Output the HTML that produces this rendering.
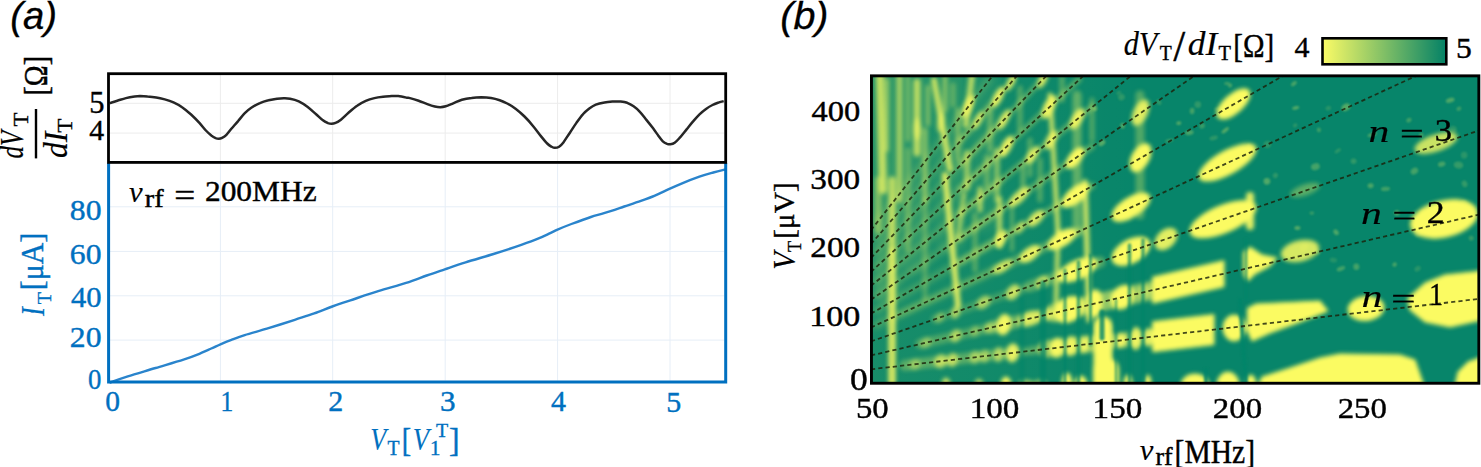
<!DOCTYPE html>
<html lang="en"><head><meta charset="utf-8"><title>Figure</title>
<style>html,body{margin:0;padding:0;background:#fff}svg{display:block}</style></head><body>
<svg width="1481" height="467" viewBox="0 0 1481 467">
<rect width="1481" height="467" fill="#fff"/>
<line x1="220.4" y1="75" x2="220.4" y2="161" stroke="#ececec" stroke-width="1"/>
<line x1="220.4" y1="164" x2="220.4" y2="380.5" stroke="#e6eef7" stroke-width="1"/>
<line x1="332.7" y1="75" x2="332.7" y2="161" stroke="#ececec" stroke-width="1"/>
<line x1="332.7" y1="164" x2="332.7" y2="380.5" stroke="#e6eef7" stroke-width="1"/>
<line x1="445.2" y1="75" x2="445.2" y2="161" stroke="#ececec" stroke-width="1"/>
<line x1="445.2" y1="164" x2="445.2" y2="380.5" stroke="#e6eef7" stroke-width="1"/>
<line x1="557.6" y1="75" x2="557.6" y2="161" stroke="#ececec" stroke-width="1"/>
<line x1="557.6" y1="164" x2="557.6" y2="380.5" stroke="#e6eef7" stroke-width="1"/>
<line x1="670.0" y1="75" x2="670.0" y2="161" stroke="#ececec" stroke-width="1"/>
<line x1="670.0" y1="164" x2="670.0" y2="380.5" stroke="#e6eef7" stroke-width="1"/>
<line x1="110" y1="103.3" x2="724" y2="103.3" stroke="#ececec" stroke-width="1"/>
<line x1="110" y1="133.1" x2="724" y2="133.1" stroke="#ececec" stroke-width="1"/>
<line x1="110" y1="206.8" x2="724" y2="206.8" stroke="#e6eef7" stroke-width="1"/>
<line x1="110" y1="251.4" x2="724" y2="251.4" stroke="#e6eef7" stroke-width="1"/>
<line x1="110" y1="295.8" x2="724" y2="295.8" stroke="#e6eef7" stroke-width="1"/>
<line x1="110" y1="340.1" x2="724" y2="340.1" stroke="#e6eef7" stroke-width="1"/>
<path d="M109.7,103.1C111.0,102.7 114.6,101.5 117.3,100.7C120.0,99.9 123.0,98.8 125.9,98.1C128.8,97.4 132.2,96.9 134.6,96.6C136.9,96.3 137.8,96.2 140.0,96.1C142.1,96.1 144.8,96.1 147.5,96.4C150.2,96.6 153.3,96.9 156.2,97.4C159.1,97.9 161.9,98.6 164.8,99.4C167.7,100.2 170.6,101.1 173.5,102.4C176.3,103.7 179.2,105.2 182.1,107.2C185.0,109.1 187.9,111.7 190.8,114.3C193.6,116.9 196.9,120.2 199.4,122.9C201.9,125.6 203.9,128.4 205.9,130.5C207.9,132.6 209.7,134.2 211.3,135.5C212.9,136.7 214.3,137.5 215.6,138.1C216.9,138.6 217.8,138.7 218.8,138.7C219.9,138.7 220.8,138.5 222.1,137.8C223.3,137.2 224.8,136.4 226.4,134.8C228.0,133.2 229.8,130.7 231.8,128.3C233.8,126.0 236.1,123.3 238.3,120.8C240.4,118.3 242.6,115.4 244.8,113.2C246.9,111.1 248.7,109.5 251.3,107.8C253.8,106.1 257.0,104.3 259.9,103.1C262.8,101.8 265.7,101.0 268.5,100.3C271.4,99.5 274.7,99.1 277.2,98.7C279.7,98.4 281.5,98.3 283.7,98.3C285.8,98.3 287.6,98.2 290.1,98.7C292.7,99.2 295.9,100.0 298.8,101.3C301.7,102.7 304.6,104.6 307.4,106.7C310.3,108.9 313.6,112.1 316.1,114.3C318.6,116.5 320.6,118.7 322.6,120.1C324.5,121.6 326.4,122.5 328.0,123.2C329.5,123.8 330.4,123.8 331.6,123.8C332.9,123.8 334.0,123.6 335.5,122.9C337.1,122.3 338.8,121.4 340.9,119.7C343.1,118.0 345.8,115.1 348.5,112.8C351.2,110.4 354.2,107.6 357.1,105.7C360.0,103.7 362.9,102.2 365.8,100.9C368.7,99.6 371.5,98.8 374.4,98.1C377.3,97.4 380.2,97.1 383.1,96.8C385.9,96.5 389.2,96.3 391.7,96.1C394.2,96.0 395.7,95.9 398.2,96.1C400.7,96.4 404.9,97.3 406.8,97.7C408.8,98.0 408.0,97.6 410.0,98.1C412.0,98.6 415.8,99.7 418.6,100.7C421.5,101.7 424.6,103.2 427.3,104.1C430.0,105.1 432.7,106.0 434.8,106.5C437.0,107.0 438.5,107.2 440.3,107.2C442.1,107.1 443.5,106.9 445.7,106.3C447.8,105.7 450.5,104.4 453.2,103.3C455.9,102.2 458.8,100.7 461.9,99.8C464.9,98.9 468.3,98.3 471.6,97.9C474.8,97.4 478.1,97.2 481.3,97.2C484.5,97.3 488.0,97.6 491.0,98.1C494.1,98.6 497.0,99.4 499.7,100.3C502.4,101.2 504.5,102.1 507.2,103.5C509.9,104.9 513.0,106.7 515.9,108.9C518.8,111.1 521.6,113.6 524.5,116.5C527.4,119.3 530.5,122.9 533.2,126.2C535.9,129.4 538.4,133.0 540.7,135.9C543.1,138.8 545.4,141.7 547.2,143.5C549.0,145.3 550.3,146.0 551.5,146.7C552.8,147.4 553.5,147.8 554.8,147.8C556.0,147.8 557.7,147.6 559.1,146.7C560.5,145.8 561.6,144.7 563.4,142.4C565.2,140.0 567.7,135.9 569.9,132.7C572.1,129.4 574.2,126.0 576.4,122.9C578.5,119.9 580.7,116.7 582.9,114.3C585.0,111.9 587.2,110.1 589.3,108.5C591.5,106.8 593.3,105.6 595.8,104.6C598.3,103.6 601.6,102.9 604.5,102.4C607.3,101.9 610.4,101.7 613.1,101.5C615.8,101.4 618.3,101.3 620.7,101.5C623.0,101.8 625.0,102.1 627.2,102.8C629.3,103.6 631.5,104.8 633.6,106.3C635.8,107.8 638.0,109.8 640.1,112.1C642.3,114.4 644.4,117.4 646.6,120.1C648.8,122.8 651.1,125.7 653.1,128.3C655.1,131.0 656.9,133.7 658.5,135.9C660.1,138.1 661.4,140.0 662.8,141.3C664.2,142.6 665.9,143.4 667.1,143.9C668.4,144.4 669.1,144.5 670.4,144.3C671.6,144.2 673.1,144.0 674.7,142.8C676.3,141.7 678.1,139.6 680.1,137.4C682.1,135.2 684.4,132.1 686.6,129.4C688.7,126.8 690.9,123.9 693.1,121.4C695.2,118.9 697.4,116.4 699.5,114.3C701.7,112.2 703.9,110.4 706.0,108.9C708.2,107.3 710.3,106.1 712.5,105.0C714.7,103.9 717.1,103.1 719.0,102.4C720.9,101.8 723.0,101.3 723.7,101.1" fill="none" stroke="#262626" stroke-width="2.5" stroke-linejoin="round"/>
<path d="M109.5,382.8C110.0,382.6 109.5,382.7 112.5,381.6C115.5,380.5 120.6,378.6 127.8,376.3C135.0,374.0 146.3,370.8 155.6,368.0C164.9,365.2 176.5,361.8 183.5,359.6C190.5,357.4 192.8,356.5 197.4,354.6C202.0,352.8 207.5,350.2 211.3,348.5C215.2,346.8 217.2,345.7 220.5,344.3C223.8,342.9 226.8,341.6 230.8,340.1C234.8,338.6 238.7,337.0 244.7,335.1C250.7,333.2 258.5,331.2 266.9,328.7C275.2,326.1 286.9,322.4 294.8,319.8C302.7,317.2 307.9,315.6 314.2,313.4C320.4,311.2 326.3,308.7 332.3,306.5C338.3,304.3 342.8,302.9 350.4,300.3C358.0,297.8 368.9,294.1 378.2,291.2C387.5,288.3 398.0,285.5 406.1,282.9C414.2,280.3 420.2,277.8 426.7,275.5C433.1,273.2 438.3,271.5 444.8,269.3C451.3,267.1 457.5,264.9 465.6,262.4C473.7,259.8 484.2,256.9 493.5,254.0C502.8,251.1 513.9,247.5 521.3,244.9C528.7,242.3 533.4,240.6 538.0,238.7C542.6,236.8 545.9,235.2 549.1,233.7C552.4,232.2 553.8,231.2 557.5,229.6C561.2,228.0 565.8,226.1 571.4,224.0C577.0,221.9 585.3,218.8 590.9,217.0C596.5,215.2 599.2,214.7 604.8,212.9C610.3,211.2 618.2,208.5 624.2,206.5C630.2,204.5 635.8,202.7 640.9,200.9C646.0,199.1 650.2,197.6 654.9,195.6C659.5,193.6 664.2,191.3 668.8,189.2C673.4,187.1 677.6,185.2 682.7,183.1C687.8,181.0 694.3,178.5 699.4,176.7C704.5,174.9 709.0,173.7 713.3,172.5C717.6,171.3 723.0,170.0 725.0,169.5" fill="none" stroke="#2a84cc" stroke-width="2.4" stroke-linejoin="round"/>
<path d="M108.6,163 V382 H725.7 V163" fill="none" stroke="#0070c0" stroke-width="3"/>
<rect x="108.5" y="73.7" width="617.2" height="88.7" fill="none" stroke="#000" stroke-width="2.8"/>
<rect x="34.8" y="109" width="2.4" height="49.4" fill="#000"/>
<defs><clipPath id="hc"><rect x="871.5" y="75.8" width="607" height="307.5"/></clipPath><filter id="b0" x="-50%" y="-5%" width="200%" height="110%"><feGaussianBlur stdDeviation="1.3"/></filter><filter id="b1" x="-5%" y="-5%" width="110%" height="110%"><feGaussianBlur stdDeviation="2.2"/></filter><filter id="b2" x="-5%" y="-5%" width="110%" height="110%"><feGaussianBlur stdDeviation="3"/></filter><linearGradient id="lg" x1="0" x2="1" y1="0" y2="0"><stop offset="0" stop-color="#fbfb62" stop-opacity=".07"/><stop offset=".22" stop-color="#fbfb62" stop-opacity=".04"/><stop offset=".45" stop-color="#fbfb62" stop-opacity="0"/></linearGradient></defs>
<g clip-path="url(#hc)">
<rect x="870" y="74" width="611" height="311" fill="#07856a"/>
<rect x="870" y="74" width="611" height="311" fill="url(#lg)"/>
<g filter="url(#b2)" stroke="#fbfb62" fill="#fbfb62" stroke-linecap="round"><line x1="886.0" y1="77.0" x2="886.0" y2="290.0" stroke-width="26" opacity="0.1"/><line x1="915.0" y1="77.0" x2="915.0" y2="260.0" stroke-width="30" opacity="0.08"/><line x1="950.0" y1="77.0" x2="950.0" y2="240.0" stroke-width="30" opacity="0.07"/><line x1="985.0" y1="77.0" x2="985.0" y2="220.0" stroke-width="30" opacity="0.05"/><line x1="876.0" y1="325.2" x2="1000.0" y2="267.8" stroke-width="6.4" opacity="0.25"/><line x1="876.0" y1="310.7" x2="1000.0" y2="239.0" stroke-width="6.1" opacity="0.25"/><line x1="876.0" y1="296.2" x2="1000.0" y2="210.1" stroke-width="5.8" opacity="0.25"/><line x1="876.0" y1="281.7" x2="1000.0" y2="181.3" stroke-width="5.4" opacity="0.25"/><line x1="876.0" y1="267.2" x2="1000.0" y2="152.4" stroke-width="5.1" opacity="0.25"/><line x1="876.0" y1="252.7" x2="1000.0" y2="123.6" stroke-width="4.8" opacity="0.25"/><line x1="876.0" y1="238.2" x2="1000.0" y2="94.8" stroke-width="4.6" opacity="0.25"/><line x1="876.0" y1="223.7" x2="989.4" y2="79.4" stroke-width="4.3" opacity="0.25"/></g>
<g filter="url(#b1)" stroke="#fbfb62" fill="#fbfb62" stroke-linecap="round"><line x1="880.0" y1="75.0" x2="883.0" y2="190.0" stroke-width="8" opacity="0.72"/><line x1="878.0" y1="180.0" x2="878.0" y2="230.0" stroke-width="7" opacity="0.4"/><line x1="899.5" y1="75.0" x2="899.5" y2="200.0" stroke-width="6" opacity="0.6"/><line x1="917.0" y1="82.0" x2="917.0" y2="153.0" stroke-width="7" opacity="0.7"/><ellipse cx="917.0" cy="129.0" rx="3.5" ry="11.0" opacity="0.6"/><line x1="928.0" y1="87.0" x2="928.0" y2="124.0" stroke-width="5" opacity="0.4"/><line x1="934.0" y1="80.0" x2="950.0" y2="169.0" stroke-width="6" opacity="0.78"/><ellipse cx="941.0" cy="122.0" rx="3.5" ry="10.0" transform="rotate(8.0 941.0 122.0)" opacity="0.6"/><line x1="972.0" y1="75.0" x2="966.0" y2="125.0" stroke-width="6" opacity="0.72"/><line x1="967.0" y1="153.0" x2="967.0" y2="188.0" stroke-width="6" opacity="0.55"/><line x1="987.0" y1="157.0" x2="987.0" y2="186.0" stroke-width="6" opacity="0.3"/><line x1="953.0" y1="85.0" x2="953.0" y2="105.0" stroke-width="5" opacity="0.3"/><line x1="892.0" y1="180.0" x2="892.0" y2="386.0" stroke-width="7" opacity="0.7"/><line x1="964.0" y1="194.0" x2="958.0" y2="239.0" stroke-width="5" opacity="0.55"/><line x1="980.0" y1="189.0" x2="980.0" y2="210.0" stroke-width="5" opacity="0.65"/><line x1="999.5" y1="199.0" x2="999.5" y2="246.0" stroke-width="5.5" opacity="0.65"/><line x1="887.0" y1="80.0" x2="887.0" y2="150.0" stroke-width="4" opacity="0.5"/><line x1="925.0" y1="130.0" x2="925.0" y2="200.0" stroke-width="5" opacity="0.45"/><line x1="945.0" y1="77.0" x2="945.0" y2="110.0" stroke-width="5" opacity="0.45"/><line x1="908.0" y1="77.0" x2="908.0" y2="140.0" stroke-width="4" opacity="0.4"/><line x1="958.0" y1="110.0" x2="958.0" y2="160.0" stroke-width="5" opacity="0.4"/><line x1="997.0" y1="150.0" x2="997.0" y2="200.0" stroke-width="5" opacity="0.5"/><line x1="908.0" y1="150.0" x2="908.0" y2="250.0" stroke-width="5" opacity="0.3"/><line x1="925.0" y1="200.0" x2="925.0" y2="300.0" stroke-width="5" opacity="0.25"/><line x1="1020.0" y1="88.0" x2="1020.0" y2="130.0" stroke-width="5" opacity="0.3"/><line x1="1030.0" y1="140.0" x2="1030.0" y2="175.0" stroke-width="5" opacity="0.3"/><line x1="1012.0" y1="205.0" x2="1012.0" y2="250.0" stroke-width="4" opacity="0.3"/><line x1="975.0" y1="215.0" x2="975.0" y2="270.0" stroke-width="5" opacity="0.3"/><line x1="1062.0" y1="77.0" x2="1062.0" y2="100.0" stroke-width="5" opacity="0.3"/><line x1="1092.0" y1="100.0" x2="1092.0" y2="140.0" stroke-width="5" opacity="0.3"/><line x1="1040.0" y1="160.0" x2="1040.0" y2="200.0" stroke-width="5" opacity="0.3"/><line x1="990.0" y1="110.0" x2="990.0" y2="150.0" stroke-width="5" opacity="0.35"/><line x1="1023.0" y1="165.0" x2="1023.0" y2="192.0" stroke-width="5" opacity="0.35"/></g>
<g filter="url(#b0)" fill="#fbfb62"><ellipse cx="1218.1" cy="108.7" rx="4.0" ry="1.6" transform="rotate(-13.2 1218.1 108.7)" opacity="0.19"/><ellipse cx="1121.5" cy="97.2" rx="3.3" ry="3.2" transform="rotate(-33.8 1121.5 97.2)" opacity="0.16"/><ellipse cx="1333.4" cy="260.1" rx="3.7" ry="2.3" transform="rotate(8.8 1333.4 260.1)" opacity="0.13"/><ellipse cx="1421.2" cy="135.0" rx="2.4" ry="1.7" transform="rotate(-24.6 1421.2 135.0)" opacity="0.28"/><ellipse cx="1337.8" cy="150.8" rx="3.6" ry="1.6" transform="rotate(-37.0 1337.8 150.8)" opacity="0.16"/><ellipse cx="1353.6" cy="161.2" rx="2.9" ry="2.7" transform="rotate(-17.3 1353.6 161.2)" opacity="0.18"/><ellipse cx="1396.9" cy="212.8" rx="2.7" ry="2.6" transform="rotate(-13.7 1396.9 212.8)" opacity="0.3"/><ellipse cx="1372.2" cy="134.7" rx="4.9" ry="1.7" transform="rotate(-19.1 1372.2 134.7)" opacity="0.27"/><ellipse cx="1385.5" cy="188.9" rx="4.6" ry="2.1" transform="rotate(-5.2 1385.5 188.9)" opacity="0.24"/><ellipse cx="1315.4" cy="166.7" rx="4.5" ry="3.4" transform="rotate(-16.3 1315.4 166.7)" opacity="0.25"/><ellipse cx="1340.9" cy="268.7" rx="4.5" ry="2.1" transform="rotate(-20.7 1340.9 268.7)" opacity="0.25"/><ellipse cx="1158.9" cy="102.2" rx="2.2" ry="3.0" transform="rotate(-33.5 1158.9 102.2)" opacity="0.17"/><ellipse cx="1303.8" cy="247.8" rx="4.5" ry="3.2" transform="rotate(-26.1 1303.8 247.8)" opacity="0.2"/><ellipse cx="1458.9" cy="108.7" rx="2.5" ry="2.0" transform="rotate(-28.3 1458.9 108.7)" opacity="0.22"/><ellipse cx="1318.9" cy="129.9" rx="2.0" ry="2.3" transform="rotate(-21.5 1318.9 129.9)" opacity="0.23"/><ellipse cx="1457.2" cy="211.2" rx="3.5" ry="2.7" transform="rotate(-6.2 1457.2 211.2)" opacity="0.13"/><ellipse cx="1436.8" cy="228.2" rx="4.6" ry="3.1" transform="rotate(-20.4 1436.8 228.2)" opacity="0.2"/><ellipse cx="1118.7" cy="92.8" rx="2.6" ry="1.8" transform="rotate(-23.0 1118.7 92.8)" opacity="0.13"/><ellipse cx="1095.1" cy="108.7" rx="2.3" ry="2.2" transform="rotate(-38.7 1095.1 108.7)" opacity="0.29"/><ellipse cx="1328.3" cy="108.2" rx="2.8" ry="2.2" transform="rotate(-21.8 1328.3 108.2)" opacity="0.14"/><ellipse cx="1417.6" cy="268.7" rx="3.4" ry="2.5" transform="rotate(-35.7 1417.6 268.7)" opacity="0.14"/><ellipse cx="1225.2" cy="130.3" rx="4.5" ry="1.8" transform="rotate(-38.8 1225.2 130.3)" opacity="0.31"/><ellipse cx="1295.7" cy="107.9" rx="3.6" ry="1.6" transform="rotate(-13.6 1295.7 107.9)" opacity="0.32"/><ellipse cx="1423.1" cy="212.3" rx="2.8" ry="2.2" transform="rotate(-31.6 1423.1 212.3)" opacity="0.27"/><ellipse cx="1297.4" cy="228.0" rx="3.0" ry="1.9" transform="rotate(0.6 1297.4 228.0)" opacity="0.32"/><ellipse cx="1419.0" cy="233.2" rx="4.5" ry="3.0" transform="rotate(-28.7 1419.0 233.2)" opacity="0.22"/><ellipse cx="1230.1" cy="85.5" rx="2.1" ry="2.1" transform="rotate(-27.0 1230.1 85.5)" opacity="0.26"/><ellipse cx="1458.5" cy="165.0" rx="4.8" ry="3.5" transform="rotate(7.8 1458.5 165.0)" opacity="0.19"/><ellipse cx="1178.8" cy="123.1" rx="2.6" ry="1.9" transform="rotate(-8.8 1178.8 123.1)" opacity="0.3"/><ellipse cx="1414.4" cy="171.1" rx="4.0" ry="3.1" transform="rotate(-35.8 1414.4 171.1)" opacity="0.25"/><ellipse cx="1440.7" cy="228.6" rx="4.3" ry="2.5" transform="rotate(-31.1 1440.7 228.6)" opacity="0.28"/><ellipse cx="1464.2" cy="155.2" rx="3.2" ry="3.4" transform="rotate(-3.8 1464.2 155.2)" opacity="0.15"/><ellipse cx="1143.3" cy="108.7" rx="4.7" ry="3.1" transform="rotate(-32.7 1143.3 108.7)" opacity="0.29"/><ellipse cx="1467.5" cy="204.9" rx="3.1" ry="2.6" transform="rotate(-33.5 1467.5 204.9)" opacity="0.12"/><ellipse cx="1463.9" cy="203.4" rx="3.6" ry="3.4" transform="rotate(-18.3 1463.9 203.4)" opacity="0.29"/><ellipse cx="1408.9" cy="120.1" rx="2.8" ry="2.1" transform="rotate(-28.0 1408.9 120.1)" opacity="0.24"/><ellipse cx="1316.7" cy="251.8" rx="3.3" ry="3.3" transform="rotate(-14.9 1316.7 251.8)" opacity="0.23"/><ellipse cx="1293.9" cy="83.6" rx="3.3" ry="1.9" transform="rotate(-39.8 1293.9 83.6)" opacity="0.28"/><ellipse cx="1370.6" cy="185.7" rx="3.0" ry="2.5" transform="rotate(-12.2 1370.6 185.7)" opacity="0.28"/><ellipse cx="1189.4" cy="132.6" rx="4.3" ry="2.5" transform="rotate(-11.9 1189.4 132.6)" opacity="0.27"/><ellipse cx="1441.7" cy="164.2" rx="3.8" ry="2.5" transform="rotate(-14.4 1441.7 164.2)" opacity="0.26"/><ellipse cx="1266.9" cy="181.3" rx="3.4" ry="3.4" transform="rotate(-5.0 1266.9 181.3)" opacity="0.3"/><ellipse cx="1453.0" cy="129.3" rx="3.7" ry="3.4" transform="rotate(2.0 1453.0 129.3)" opacity="0.15"/><ellipse cx="1122.6" cy="125.7" rx="2.2" ry="2.8" transform="rotate(-0.8 1122.6 125.7)" opacity="0.3"/><ellipse cx="1345.9" cy="107.2" rx="4.6" ry="3.4" transform="rotate(-29.0 1345.9 107.2)" opacity="0.31"/><ellipse cx="1471.2" cy="238.2" rx="2.5" ry="2.4" transform="rotate(-14.2 1471.2 238.2)" opacity="0.19"/><ellipse cx="1169.4" cy="140.5" rx="4.2" ry="1.5" transform="rotate(-12.3 1169.4 140.5)" opacity="0.21"/><ellipse cx="1101.9" cy="143.0" rx="3.9" ry="2.5" transform="rotate(-36.8 1101.9 143.0)" opacity="0.32"/><ellipse cx="1394.6" cy="264.6" rx="2.3" ry="2.0" transform="rotate(-38.0 1394.6 264.6)" opacity="0.28"/><ellipse cx="1197.8" cy="104.6" rx="3.3" ry="3.3" transform="rotate(0.9 1197.8 104.6)" opacity="0.17"/><ellipse cx="1311.8" cy="213.1" rx="2.3" ry="1.6" transform="rotate(-5.6 1311.8 213.1)" opacity="0.21"/><ellipse cx="1336.1" cy="232.3" rx="2.3" ry="3.2" transform="rotate(-36.7 1336.1 232.3)" opacity="0.29"/><ellipse cx="1267.4" cy="144.4" rx="3.7" ry="3.4" transform="rotate(-26.6 1267.4 144.4)" opacity="0.15"/><ellipse cx="1295.2" cy="125.3" rx="2.3" ry="1.8" transform="rotate(-37.5 1295.2 125.3)" opacity="0.16"/><ellipse cx="1213.6" cy="138.0" rx="4.3" ry="2.1" transform="rotate(-15.0 1213.6 138.0)" opacity="0.16"/><ellipse cx="1226.9" cy="83.5" rx="2.8" ry="1.5" transform="rotate(-3.3 1226.9 83.5)" opacity="0.23"/><ellipse cx="1450.2" cy="100.2" rx="4.5" ry="2.4" transform="rotate(-15.2 1450.2 100.2)" opacity="0.29"/><ellipse cx="1356.3" cy="266.7" rx="3.0" ry="3.2" transform="rotate(-4.7 1356.3 266.7)" opacity="0.25"/><ellipse cx="1248.8" cy="146.0" rx="2.2" ry="1.8" transform="rotate(-36.5 1248.8 146.0)" opacity="0.27"/><ellipse cx="1192.1" cy="111.0" rx="2.3" ry="3.2" transform="rotate(3.5 1192.1 111.0)" opacity="0.25"/><ellipse cx="1202.1" cy="126.0" rx="2.9" ry="2.4" transform="rotate(-32.1 1202.1 126.0)" opacity="0.21"/><ellipse cx="1464.6" cy="183.9" rx="2.7" ry="3.4" transform="rotate(-24.5 1464.6 183.9)" opacity="0.19"/><ellipse cx="1275.4" cy="175.5" rx="2.6" ry="2.5" transform="rotate(-39.8 1275.4 175.5)" opacity="0.17"/></g>
<g filter="url(#b1)" stroke="#fbfb62" fill="#fbfb62" stroke-linecap="round"><line x1="892.0" y1="250.0" x2="892.0" y2="386.0" stroke-width="5" opacity="0.5"/><line x1="945.0" y1="175.0" x2="958.0" y2="305.0" stroke-width="6" opacity="0.85"/><line x1="1085.0" y1="182.0" x2="1089.0" y2="320.0" stroke-width="5.5" opacity="0.8"/><line x1="1050.0" y1="95.0" x2="1058.0" y2="232.0" stroke-width="5" opacity="0.75"/><line x1="1058.0" y1="232.0" x2="1056.0" y2="305.0" stroke-width="5" opacity="0.7"/><line x1="1077.0" y1="95.0" x2="1077.0" y2="232.0" stroke-width="9" opacity="0.35"/><line x1="1140.0" y1="95.0" x2="1140.0" y2="215.0" stroke-width="9" opacity="0.3"/><line x1="905.0" y1="365.3" x2="1020.0" y2="352.0" stroke-width="10.9" opacity="0.3"/><line x1="1046.0" y1="349.0" x2="1092.0" y2="343.7" stroke-width="16.9" opacity="0.55"/><line x1="1114.0" y1="341.2" x2="1153.0" y2="336.7" stroke-width="14.9" opacity="0.5"/><ellipse rx="5.0" ry="5.0" transform="matrix(1 -0.1157 0 1 915.0 364.2)" opacity="0.4"/><ellipse rx="6.0" ry="6.5" transform="matrix(1 -0.1157 0 1 940.7 361.2)" opacity="0.65"/><ellipse rx="5.0" ry="6.5" transform="matrix(1 -0.1157 0 1 952.5 359.9)" opacity="0.65"/><ellipse rx="5.0" ry="6.0" transform="matrix(1 -0.1157 0 1 975.0 357.2)" opacity="0.5"/><ellipse rx="4.5" ry="6.0" transform="matrix(1 -0.1157 0 1 984.6 356.1)" opacity="0.5"/><ellipse rx="4.5" ry="7.0" transform="matrix(1 -0.1157 0 1 998.5 354.5)" opacity="0.6"/><ellipse rx="6.0" ry="9.0" transform="matrix(1 -0.1157 0 1 1012.4 352.9)" opacity="0.9"/><ellipse rx="10.0" ry="4.0" transform="matrix(1 -0.1157 0 1 1033.0 350.5)" opacity="0.3"/><ellipse rx="7.0" ry="9.5" transform="matrix(1 -0.1157 0 1 1057.0 347.8)" opacity="0.95"/><ellipse rx="5.5" ry="9.5" transform="matrix(1 -0.1157 0 1 1071.0 346.1)" opacity="0.9"/><ellipse rx="4.5" ry="8.0" transform="matrix(1 -0.1157 0 1 1084.5 344.6)" opacity="0.85"/><ellipse rx="5.5" ry="7.0" transform="matrix(1 -0.1157 0 1 1121.0 340.4)" opacity="0.9"/><ellipse rx="5.0" ry="11.0" transform="matrix(1 -0.1157 0 1 1136.0 338.6)" opacity="0.9"/><ellipse rx="4.0" ry="9.0" transform="matrix(1 -0.1157 0 1 1148.5 337.2)" opacity="0.8"/><polygon points="1153.0,321.7 1214.0,314.6 1214.0,344.6 1153.0,351.7"/><line x1="1103.0" y1="326.0" x2="1103.0" y2="386.0" stroke-width="19"/><line x1="1106.0" y1="370.0" x2="1106.0" y2="388.0" stroke-width="26"/><line x1="920.0" y1="344.0" x2="992.0" y2="327.4" stroke-width="9.7" opacity="0.25"/><line x1="992.0" y1="327.4" x2="1050.0" y2="313.9" stroke-width="12.7" opacity="0.4"/><line x1="1054.0" y1="313.0" x2="1150.0" y2="290.8" stroke-width="18.5" opacity="0.55"/><ellipse rx="5.0" ry="5.0" transform="matrix(1 -0.2314 0 1 925.7 342.7)" opacity="0.4"/><ellipse rx="5.0" ry="6.0" transform="matrix(1 -0.2314 0 1 955.7 335.8)" opacity="0.6"/><ellipse rx="4.0" ry="5.0" transform="matrix(1 -0.2314 0 1 975.0 331.3)" opacity="0.35"/><ellipse rx="4.0" ry="5.0" transform="matrix(1 -0.2314 0 1 988.0 328.3)" opacity="0.35"/><ellipse rx="7.0" ry="10.0" transform="matrix(1 -0.2314 0 1 1003.8 324.6)" opacity="0.95"/><ellipse rx="12.0" ry="7.0" transform="matrix(1 -0.2314 0 1 1030.0 318.6)" opacity="0.8"/><ellipse rx="4.0" ry="5.0" transform="matrix(1 -0.2314 0 1 1048.0 314.4)" opacity="0.6"/><ellipse rx="15.0" ry="12.5" transform="matrix(1 -0.2314 0 1 1069.0 309.5)"/><ellipse rx="7.0" ry="13.5" transform="matrix(1 -0.2314 0 1 1095.0 303.5)"/><ellipse rx="11.5" ry="11.5" transform="matrix(1 -0.2314 0 1 1122.5 297.2)"/><ellipse rx="6.0" ry="6.0" transform="matrix(1 -0.2314 0 1 1144.0 292.2)" opacity="0.5"/><polygon points="1153.0,277.1 1224.0,260.7 1224.0,286.7 1153.0,303.1"/><line x1="935.0" y1="319.2" x2="1025.0" y2="288.0" stroke-width="8.5" opacity="0.2"/><line x1="1030.0" y1="286.3" x2="1100.0" y2="262.0" stroke-width="11.3" opacity="0.3"/><ellipse rx="4.0" ry="4.5" transform="matrix(1 -0.3471 0 1 939.6 317.6)" opacity="0.4"/><ellipse rx="4.0" ry="6.0" transform="matrix(1 -0.3471 0 1 955.7 312.0)" opacity="0.6"/><ellipse rx="6.5" ry="6.0" transform="matrix(1 -0.3471 0 1 983.5 302.4)" opacity="0.6"/><ellipse rx="6.5" ry="7.0" transform="matrix(1 -0.3471 0 1 1013.0 292.2)" opacity="0.75"/><ellipse rx="6.0" ry="5.5" transform="matrix(1 -0.3471 0 1 1042.0 282.1)" opacity="0.7"/><ellipse rx="19.5" ry="10.0" transform="matrix(1 -0.3471 0 1 1077.5 269.8)"/><ellipse rx="19.0" ry="12.5" transform="matrix(1 -0.3471 0 1 1131.0 251.2)"/><ellipse rx="11.0" ry="10.0" transform="matrix(1 -0.3471 0 1 1166.0 239.0)" opacity="0.9"/><line x1="900.0" y1="314.1" x2="990.0" y2="272.5" stroke-width="7.3" opacity="0.15"/><line x1="995.0" y1="270.1" x2="1080.0" y2="230.8" stroke-width="9.1" opacity="0.3"/><ellipse rx="9.0" ry="5.0" transform="matrix(1 -0.4628 0 1 1003.0 266.4)" opacity="0.7"/><ellipse rx="10.0" ry="7.0" transform="matrix(1 -0.4628 0 1 1030.0 253.9)" opacity="0.9"/><ellipse rx="14.0" ry="8.0" transform="matrix(1 -0.4628 0 1 1062.0 239.1)"/><ellipse rx="19.0" ry="11.0" transform="matrix(1 -0.4628 0 1 1131.0 207.2)"/><line x1="960.0" y1="262.1" x2="1092.0" y2="185.8" stroke-width="6.9" opacity="0.3"/><line x1="960.0" y1="237.9" x2="1092.0" y2="146.3" stroke-width="6.6" opacity="0.3"/><line x1="960.0" y1="213.7" x2="1092.0" y2="106.8" stroke-width="6.2" opacity="0.3"/><line x1="960.0" y1="189.5" x2="1078.9" y2="79.4" stroke-width="5.9" opacity="0.3"/><line x1="960.0" y1="165.3" x2="1042.5" y2="79.4" stroke-width="5.5" opacity="0.3"/><line x1="960.0" y1="141.0" x2="1013.3" y2="79.4" stroke-width="5.2" opacity="0.3"/><ellipse rx="5.5" ry="7.5" transform="matrix(1 -0.5785 0 1 1001.0 238.4)" opacity="0.8"/><ellipse rx="5.0" ry="5.0" transform="matrix(1 -0.5785 0 1 1020.0 227.4)" opacity="0.6"/><ellipse rx="8.0" ry="6.5" transform="matrix(1 -0.5785 0 1 1036.0 218.2)" opacity="0.8"/><ellipse rx="13.5" ry="9.0" transform="matrix(1 -0.5785 0 1 1075.5 195.3)"/><ellipse rx="10.5" ry="12.5" transform="matrix(1 -0.5785 0 1 1140.5 157.7)"/><ellipse rx="10.0" ry="6.5" transform="matrix(1 -0.6942 0 1 1019.0 196.9)" opacity="0.8"/><ellipse rx="9.0" ry="8.0" transform="matrix(1 -0.6942 0 1 1075.0 158.1)"/><ellipse rx="8.5" ry="11.0" transform="matrix(1 -0.6942 0 1 1140.5 112.6)" opacity="0.85"/><ellipse rx="7.0" ry="8.0" transform="matrix(1 -0.8099 0 1 1077.0 118.9)" opacity="0.9"/><ellipse rx="6.0" ry="7.5" transform="matrix(1 -0.8099 0 1 1051.0 140.0)" opacity="0.8"/><ellipse rx="6.5" ry="6.5" transform="matrix(1 -0.8099 0 1 1032.5 155.0)" opacity="0.8"/><ellipse rx="7.0" ry="9.0" transform="matrix(1 -0.9256 0 1 1049.0 107.1)" opacity="0.9"/><ellipse rx="6.5" ry="8.0" transform="matrix(1 -0.9256 0 1 1006.5 146.4)" opacity="0.9"/><ellipse rx="5.0" ry="7.0" transform="matrix(1 -1.0413 0 1 1043.0 78.8)" opacity="0.8"/><ellipse rx="6.0" ry="7.0" transform="matrix(1 -1.0413 0 1 1004.0 119.4)" opacity="0.8"/><ellipse rx="6.0" ry="7.0" transform="matrix(1 -1.1570 0 1 998.0 97.1)" opacity="0.9"/><ellipse rx="5.0" ry="6.0" transform="matrix(1 -1.1570 0 1 978.0 120.2)" opacity="0.7"/><ellipse rx="5.0" ry="6.0" transform="matrix(1 -1.1570 0 1 1011.0 82.0)" opacity="0.8"/><ellipse rx="6.0" ry="8.0" transform="matrix(1 -1.2727 0 1 968.0 106.6)" opacity="0.8"/><ellipse cx="946.0" cy="385.0" rx="4.0" ry="7.0" opacity="0.8"/><ellipse cx="979.0" cy="385.0" rx="4.0" ry="6.0" opacity="0.7"/><ellipse cx="1006.0" cy="385.0" rx="5.0" ry="8.0"/><ellipse cx="1026.0" cy="385.0" rx="8.0" ry="5.0" opacity="0.6"/><ellipse cx="1040.0" cy="385.0" rx="8.0" ry="5.0" opacity="0.5"/><ellipse cx="1067.0" cy="385.0" rx="5.0" ry="12.0"/><ellipse cx="1081.0" cy="385.0" rx="6.0" ry="9.0"/><ellipse cx="1128.0" cy="385.0" rx="4.0" ry="10.0"/><ellipse cx="1148.0" cy="385.0" rx="3.0" ry="10.0"/><ellipse cx="1234.0" cy="328.0" rx="11.0" ry="13.0"/><polygon points="1248.0,308.0 1256.0,304.0 1320.0,301.0 1328.0,311.0 1300.0,322.0 1270.0,333.0 1252.0,341.0 1247.0,330.0"/><ellipse cx="1366.0" cy="308.5" rx="18.0" ry="12.0" transform="rotate(-6.6 1366.0 308.5)"/><polygon points="1408.0,298.0 1425.0,283.0 1445.0,275.0 1482.0,271.0 1482.0,320.0 1450.0,327.0 1425.0,322.0 1410.0,310.0"/><ellipse cx="1195.0" cy="385.0" rx="14.0" ry="11.0"/><ellipse cx="1228.0" cy="385.0" rx="11.0" ry="13.0"/><ellipse cx="1251.0" cy="385.0" rx="5.0" ry="10.0"/><polygon points="1258.0,386.0 1262.0,377.0 1290.0,368.0 1320.0,358.0 1340.0,354.0 1400.0,355.0 1415.0,360.0 1424.0,386.0"/><polygon points="1455.0,386.0 1458.0,372.0 1468.0,362.0 1482.0,357.0 1482.0,386.0"/><ellipse rx="33.0" ry="14.5" transform="matrix(1 -0.3471 0 1 1223.0 219.3)"/><line x1="1250.0" y1="196.0" x2="1250.0" y2="226.0" stroke-width="8" opacity="0.9"/><polygon points="1244.0,252.0 1250.0,247.0 1262.0,255.0 1277.0,258.0 1270.0,266.0 1255.0,274.0 1248.0,281.0 1244.0,275.0"/><ellipse cx="1300.0" cy="251.0" rx="19.0" ry="10.0" transform="rotate(-13.0 1300.0 251.0)" opacity="0.85"/><ellipse cx="1444.0" cy="219.0" rx="34.0" ry="18.0" transform="rotate(-13.0 1444.0 219.0)"/><ellipse cx="1305.0" cy="190.0" rx="15.0" ry="5.0" transform="rotate(-19.1 1305.0 190.0)" opacity="0.35"/><ellipse rx="16.5" ry="11.5" transform="matrix(1 -0.5785 0 1 1233.5 103.9)"/><ellipse rx="28.5" ry="13.0" transform="matrix(1 -0.4628 0 1 1227.5 162.5)"/><ellipse cx="1436.0" cy="143.0" rx="22.0" ry="8.0" transform="rotate(-19.1 1436.0 143.0)" opacity="0.8"/></g>
<g filter="url(#b0)" stroke="#07856a" stroke-linecap="round"><line x1="1043.0" y1="283.0" x2="1043.0" y2="386.0" stroke-width="6" opacity="0.7"/><line x1="1065.0" y1="270.0" x2="1065.0" y2="386.0" stroke-width="3" opacity="0.7"/><line x1="1078.5" y1="262.0" x2="1078.5" y2="386.0" stroke-width="3.5" opacity="0.7"/><line x1="1090.5" y1="255.0" x2="1090.5" y2="345.0" stroke-width="3" opacity="0.7"/><line x1="1129.5" y1="245.0" x2="1129.5" y2="386.0" stroke-width="3.5" opacity="0.7"/><line x1="1143.0" y1="240.0" x2="1143.0" y2="386.0" stroke-width="3.5" opacity="0.7"/><line x1="1116.0" y1="300.0" x2="1116.0" y2="386.0" stroke-width="2.5" opacity="0.6"/><line x1="1022.0" y1="300.0" x2="1022.0" y2="386.0" stroke-width="5" opacity="0.5"/><line x1="1102.0" y1="312.0" x2="1102.0" y2="338.0" stroke-width="5" opacity="0.8"/><line x1="1240.0" y1="300.0" x2="1246.0" y2="386.0" stroke-width="4" opacity="0.85"/><line x1="1246.0" y1="240.0" x2="1246.0" y2="300.0" stroke-width="3" opacity="0.6"/><line x1="1206.0" y1="370.0" x2="1206.0" y2="386.0" stroke-width="4" opacity="0.8"/></g>
<g stroke="#1c220a" stroke-width="1.8" stroke-dasharray="4.2 3.1" opacity=".82"><line x1="871" y1="369.3" x2="1480.0" y2="298.8"/><line x1="871" y1="355.4" x2="1480.0" y2="214.4"/><line x1="871" y1="341.4" x2="1480.0" y2="130.1"/><line x1="871" y1="327.5" x2="1420.1" y2="74.0"/><line x1="871" y1="313.6" x2="1286.2" y2="74.0"/><line x1="871" y1="299.7" x2="1197.0" y2="74.0"/><line x1="871" y1="285.8" x2="1133.2" y2="74.0"/><line x1="871" y1="271.9" x2="1085.4" y2="74.0"/><line x1="871" y1="257.9" x2="1048.2" y2="74.0"/><line x1="871" y1="244.0" x2="1018.5" y2="74.0"/><line x1="871" y1="230.1" x2="994.1" y2="74.0"/></g>
</g>
<rect x="871.45" y="75.85" width="607.4" height="307.4" fill="none" stroke="#000" stroke-width="2.9"/>
<text transform="translate(10.29,28.60) scale(1.0068,1.0000)" font-family='"Liberation Sans", sans-serif' font-style="italic" font-size="38" fill="#000" stroke="#000" stroke-width="0.3">(a)</text>
<text transform="translate(780.26,28.60) scale(1.0386,1.0000)" font-family='"Liberation Sans", sans-serif' font-style="italic" font-size="38" fill="#000" stroke="#000" stroke-width="0.3">(b)</text>
<text transform="translate(89.18,112.90) scale(1.0154,1.0450)" font-family='"Liberation Serif", serif' font-style="normal" font-size="30" fill="#000" stroke="#000" stroke-width="0.4">5</text>
<text transform="translate(89.20,140.39) scale(0.9933,1.0100)" font-family='"Liberation Serif", serif' font-style="normal" font-size="30" fill="#000" stroke="#000" stroke-width="0.4">4</text>
<text transform="translate(129.00,201.50) scale(1.0214,0.9929)" font-family='"Liberation Serif", serif' font-style="italic" font-size="30" fill="#000" stroke="#000" stroke-width="0.15">ν</text>
<text transform="translate(144.80,206.50) scale(1.2800,1.1000)" font-family='"Liberation Serif", serif' font-style="normal" font-size="22" fill="#000" stroke="#000" stroke-width="0.4">rf</text>
<text transform="translate(174.16,206.47) scale(1.2400,1.0778)" font-family='"Liberation Serif", serif' font-style="normal" font-size="30" fill="#000" stroke="#000" stroke-width="0.4">=</text>
<text transform="translate(204.95,200.54) scale(1.0476,0.9619)" font-family='"Liberation Serif", serif' font-style="normal" font-size="30" fill="#000" stroke="#000" stroke-width="0.4">200MHz</text>
<text transform="translate(69.84,219.83) scale(1.0552,0.9750)" font-family='"Liberation Serif", serif' font-style="normal" font-size="30" fill="#0070c0" stroke="#0070c0" stroke-width="0.4">80</text>
<text transform="translate(69.84,264.45) scale(1.0552,0.9500)" font-family='"Liberation Serif", serif' font-style="normal" font-size="30" fill="#0070c0" stroke="#0070c0" stroke-width="0.4">60</text>
<text transform="translate(70.90,306.64) scale(1.0200,0.9650)" font-family='"Liberation Serif", serif' font-style="normal" font-size="30" fill="#0070c0" stroke="#0070c0" stroke-width="0.4">40</text>
<text transform="translate(69.84,347.42) scale(1.0552,0.9750)" font-family='"Liberation Serif", serif' font-style="normal" font-size="30" fill="#0070c0" stroke="#0070c0" stroke-width="0.4">20</text>
<text transform="translate(88.11,388.89) scale(0.8929,1.0100)" font-family='"Liberation Serif", serif' font-style="normal" font-size="30" fill="#0070c0" stroke="#0070c0" stroke-width="0.4">0</text>
<text transform="translate(105.21,410.59) scale(0.9857,1.0100)" font-family='"Liberation Serif", serif' font-style="normal" font-size="30" fill="#0070c0" stroke="#0070c0" stroke-width="0.4">0</text>
<text transform="translate(220.50,410.59) scale(0.8500,1.0100)" font-family='"Liberation Serif", serif' font-style="normal" font-size="30" fill="#0070c0" stroke="#0070c0" stroke-width="0.4">1</text>
<text transform="translate(328.30,410.59) scale(1.0000,1.0100)" font-family='"Liberation Serif", serif' font-style="normal" font-size="30" fill="#0070c0" stroke="#0070c0" stroke-width="0.4">2</text>
<text transform="translate(439.96,410.59) scale(1.0385,1.0100)" font-family='"Liberation Serif", serif' font-style="normal" font-size="30" fill="#0070c0" stroke="#0070c0" stroke-width="0.4">3</text>
<text transform="translate(551.00,410.59) scale(1.0000,1.0100)" font-family='"Liberation Serif", serif' font-style="normal" font-size="30" fill="#0070c0" stroke="#0070c0" stroke-width="0.4">4</text>
<text transform="translate(666.30,411.60) scale(1.0000,1.0100)" font-family='"Liberation Serif", serif' font-style="normal" font-size="30" fill="#0070c0" stroke="#0070c0" stroke-width="0.4">5</text>
<text transform="translate(370.33,449.80) scale(0.8714,1.0421)" font-family='"Liberation Serif", serif' font-style="italic" font-size="30" fill="#0070c0" stroke="#0070c0" stroke-width="0.15">V</text>
<text transform="translate(387.50,455.06) scale(0.8929,0.9375)" font-family='"Liberation Serif", serif' font-style="normal" font-size="22" fill="#0070c0" stroke="#0070c0" stroke-width="0.4">T</text>
<text transform="translate(401.82,451.33) scale(0.9375,1.1346)" font-family='"Liberation Serif", serif' font-style="normal" font-size="30" fill="#0070c0" stroke="#0070c0" stroke-width="0.4">[</text>
<text transform="translate(412.81,449.80) scale(0.8905,1.0421)" font-family='"Liberation Serif", serif' font-style="italic" font-size="30" fill="#0070c0" stroke="#0070c0" stroke-width="0.15">V</text>
<text transform="translate(430.06,455.03) scale(0.9444,0.9667)" font-family='"Liberation Serif", serif' font-style="normal" font-size="22" fill="#0070c0" stroke="#0070c0" stroke-width="0.4">1</text>
<text transform="translate(436.00,437.11) scale(0.9071,0.8938)" font-family='"Liberation Serif", serif' font-style="normal" font-size="22" fill="#0070c0" stroke="#0070c0" stroke-width="0.4">T</text>
<text transform="translate(448.94,451.33) scale(1.0571,1.1346)" font-family='"Liberation Serif", serif' font-style="normal" font-size="30" fill="#0070c0" stroke="#0070c0" stroke-width="0.4">]</text>
<text transform="translate(44.30,316.00) rotate(-90) scale(0.8917,1.1316)" font-family='"Liberation Serif", serif' font-style="italic" font-size="30" fill="#0070c0" stroke="#0070c0" stroke-width="0.15">I</text>
<text transform="translate(50.92,304.20) rotate(-90) scale(0.9143,0.8750)" font-family='"Liberation Serif", serif' font-style="normal" font-size="22" fill="#0070c0" stroke="#0070c0" stroke-width="0.4">T</text>
<text transform="translate(43.48,290.19) rotate(-90) scale(0.9926,1.0321)" font-family='"Liberation Serif", serif' font-style="normal" font-size="30" fill="#0070c0" stroke="#0070c0" stroke-width="0.4">[μA]</text>
<text transform="translate(22.60,158.53) rotate(-90) scale(0.8306,1.1150)" font-family='"Liberation Serif", serif' font-style="italic" font-size="30" fill="#000" stroke="#000" stroke-width="0.15">dV</text>
<text transform="translate(27.54,126.40) rotate(-90) scale(1.0429,0.9563)" font-family='"Liberation Serif", serif' font-style="normal" font-size="22" fill="#000" stroke="#000" stroke-width="0.4">T</text>
<text transform="translate(67.10,158.05) rotate(-90) scale(1.0538,1.1300)" font-family='"Liberation Serif", serif' font-style="italic" font-size="30" fill="#000" stroke="#000" stroke-width="0.15">dI</text>
<text transform="translate(72.00,132.70) rotate(-90) scale(1.0500,1.0000)" font-family='"Liberation Serif", serif' font-style="normal" font-size="22" fill="#000" stroke="#000" stroke-width="0.4">T</text>
<text transform="translate(46.91,95.57) rotate(-90) scale(0.9359,1.1577)" font-family='"Liberation Serif", serif' font-style="normal" font-size="30" fill="#000" stroke="#000" stroke-width="0.4">[Ω]</text>
<text transform="translate(811.40,121.41) scale(1.0844,0.9900)" font-family='"Liberation Serif", serif' font-style="normal" font-size="30" fill="#000" stroke="#000" stroke-width="0.4">400</text>
<text transform="translate(810.29,189.41) scale(1.1091,0.9900)" font-family='"Liberation Serif", serif' font-style="normal" font-size="30" fill="#000" stroke="#000" stroke-width="0.4">300</text>
<text transform="translate(810.29,256.81) scale(1.1091,0.9900)" font-family='"Liberation Serif", serif' font-style="normal" font-size="30" fill="#000" stroke="#000" stroke-width="0.4">200</text>
<text transform="translate(809.13,326.19) scale(1.1349,1.0100)" font-family='"Liberation Serif", serif' font-style="normal" font-size="30" fill="#000" stroke="#000" stroke-width="0.4">100</text>
<text transform="translate(850.11,390.16) scale(1.1857,1.0350)" font-family='"Liberation Serif", serif' font-style="normal" font-size="30" fill="#000" stroke="#000" stroke-width="0.4">0</text>
<text transform="translate(855.91,417.94) scale(1.0931,0.9619)" font-family='"Liberation Serif", serif' font-style="normal" font-size="30" fill="#000" stroke="#000" stroke-width="0.4">50</text>
<text transform="translate(969.69,417.89) scale(1.1047,1.0100)" font-family='"Liberation Serif", serif' font-style="normal" font-size="30" fill="#000" stroke="#000" stroke-width="0.4">100</text>
<text transform="translate(1092.59,417.94) scale(1.1047,0.9619)" font-family='"Liberation Serif", serif' font-style="normal" font-size="30" fill="#000" stroke="#000" stroke-width="0.4">150</text>
<text transform="translate(1212.80,417.89) scale(1.0955,1.0100)" font-family='"Liberation Serif", serif' font-style="normal" font-size="30" fill="#000" stroke="#000" stroke-width="0.4">200</text>
<text transform="translate(1337.70,417.94) scale(1.0955,0.9619)" font-family='"Liberation Serif", serif' font-style="normal" font-size="30" fill="#000" stroke="#000" stroke-width="0.4">250</text>
<text transform="translate(1139.70,459.60) scale(1.0214,1.0071)" font-family='"Liberation Serif", serif' font-style="italic" font-size="30" fill="#000" stroke="#000" stroke-width="0.15">ν</text>
<text transform="translate(1155.50,465.09) scale(1.1667,1.1062)" font-family='"Liberation Serif", serif' font-style="normal" font-size="22" fill="#000" stroke="#000" stroke-width="0.4">rf</text>
<text transform="translate(1174.53,462.77) scale(0.9859,1.1462)" font-family='"Liberation Serif", serif' font-style="normal" font-size="30" fill="#000" stroke="#000" stroke-width="0.4">[MHz]</text>
<text transform="translate(794.60,269.68) rotate(-90) scale(0.9762,1.0842)" font-family='"Liberation Serif", serif' font-style="italic" font-size="30" fill="#000" stroke="#000" stroke-width="0.15">V</text>
<text transform="translate(801.12,252.00) rotate(-90) scale(0.8214,0.8750)" font-family='"Liberation Serif", serif' font-style="normal" font-size="22" fill="#000" stroke="#000" stroke-width="0.4">T</text>
<text transform="translate(793.95,238.96) rotate(-90) scale(0.9815,1.0071)" font-family='"Liberation Serif", serif' font-style="normal" font-size="30" fill="#000" stroke="#000" stroke-width="0.4">[μV]</text>
<text transform="translate(1123.69,54.80) scale(1.0083,1.1150)" font-family='"Liberation Serif", serif' font-style="italic" font-size="30" fill="#000" stroke="#000" stroke-width="0.15">dV</text>
<text transform="translate(1159.70,60.26) scale(0.8929,0.9375)" font-family='"Liberation Serif", serif' font-style="normal" font-size="22" fill="#000" stroke="#000" stroke-width="0.4">T</text>
<text transform="translate(1173.50,60.53) scale(1.3889,1.4667)" font-family='"Liberation Serif", serif' font-style="normal" font-size="30" fill="#000" stroke="#000" stroke-width="0.4">/</text>
<text transform="translate(1187.82,54.80) scale(1.1808,1.1150)" font-family='"Liberation Serif", serif' font-style="italic" font-size="30" fill="#000" stroke="#000" stroke-width="0.15">dI</text>
<text transform="translate(1218.40,60.26) scale(0.9286,0.9375)" font-family='"Liberation Serif", serif' font-style="normal" font-size="22" fill="#000" stroke="#000" stroke-width="0.4">T</text>
<text transform="translate(1233.27,56.56) scale(0.9667,1.0885)" font-family='"Liberation Serif", serif' font-style="normal" font-size="30" fill="#000" stroke="#000" stroke-width="0.4">[Ω]</text>
<text transform="translate(1294.60,57.00) scale(1.0000,1.0000)" font-family='"Liberation Serif", serif' font-style="normal" font-size="30" fill="#000" stroke="#000" stroke-width="0.4">4</text>
<text transform="translate(1455.95,58.20) scale(1.0538,1.0100)" font-family='"Liberation Serif", serif' font-style="normal" font-size="30" fill="#000" stroke="#000" stroke-width="0.4">5</text>
<text transform="translate(1368.62,141.60) scale(1.3846,1.0429)" font-family='"Liberation Serif", serif' font-style="italic" font-size="30" fill="#000" stroke="#000" stroke-width="0.15">n</text>
<text transform="translate(1400.10,143.50) scale(1.4000,1.0000)" font-family='"Liberation Serif", serif' font-style="normal" font-size="30" fill="#000" stroke="#000" stroke-width="0.4">=</text>
<text transform="translate(1434.85,140.57) scale(1.1538,1.0300)" font-family='"Liberation Serif", serif' font-style="normal" font-size="30" fill="#000" stroke="#000" stroke-width="0.4">3</text>
<text transform="translate(1361.12,224.00) scale(1.3846,1.0429)" font-family='"Liberation Serif", serif' font-style="italic" font-size="30" fill="#000" stroke="#000" stroke-width="0.15">n</text>
<text transform="translate(1392.60,226.00) scale(1.4000,1.0000)" font-family='"Liberation Serif", serif' font-style="normal" font-size="30" fill="#000" stroke="#000" stroke-width="0.4">=</text>
<text transform="translate(1426.71,222.78) scale(1.1923,1.0200)" font-family='"Liberation Serif", serif' font-style="normal" font-size="30" fill="#000" stroke="#000" stroke-width="0.4">2</text>
<text transform="translate(1361.40,306.60) scale(1.4000,1.0429)" font-family='"Liberation Serif", serif' font-style="italic" font-size="30" fill="#000" stroke="#000" stroke-width="0.15">n</text>
<text transform="translate(1391.27,309.00) scale(1.4333,1.0000)" font-family='"Liberation Serif", serif' font-style="normal" font-size="30" fill="#000" stroke="#000" stroke-width="0.4">=</text>
<text transform="translate(1429.17,305.38) scale(0.9167,1.0200)" font-family='"Liberation Serif", serif' font-style="normal" font-size="30" fill="#000" stroke="#000" stroke-width="0.4">1</text>
<defs><linearGradient id="cb" x1="0" x2="1" y1="0" y2="0"><stop offset="0" stop-color="#fbfb66"/><stop offset="0.5" stop-color="#80bf66"/><stop offset="1" stop-color="#038166"/></linearGradient></defs>
<rect x="1322.5" y="38.3" width="123.8" height="26" fill="url(#cb)" stroke="#000" stroke-width="2.6"/>
</svg></body></html>
